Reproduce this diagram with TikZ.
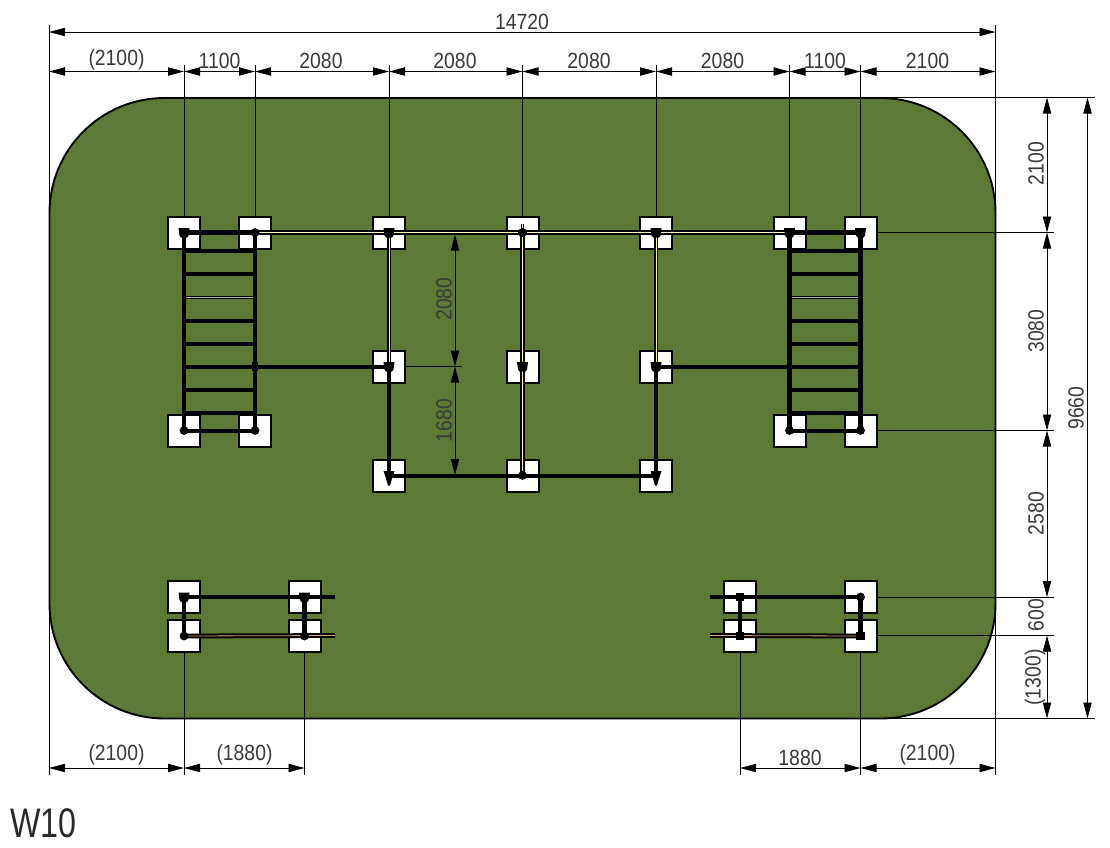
\documentclass[tikz,border=0pt]{standalone}
\usepackage{fontspec}
\setmainfont{Liberation Sans}
\newfontfamily\dimfont[FakeStretch=0.88]{Liberation Sans}
\newfontfamily\titlefont[FakeStretch=0.78]{Liberation Sans}
\usetikzlibrary{arrows.meta}
\definecolor{turf}{HTML}{5E7836}
\definecolor{ink}{HTML}{3A3A3A}
\tikzset{
  x=0.75pt,y=-0.75pt,
  footing/.style={draw=black,fill=white,line width=1.5pt,minimum size=24pt,inner sep=0pt,outer sep=0pt},
  rail/.style={line width=3.5pt,black,line cap=butt},
  rung/.style={line width=2.9pt,black},
  hollow/.style={line width=1.5pt,black,double=#1,double distance=0.6pt},
  hollow/.default={white!75!yellow},
  ext/.style={line width=0.72pt,black},
  dim/.style={line width=0.72pt,black,{Triangle[length=12pt,width=6.2pt]}-{Triangle[length=12pt,width=6.2pt]}},
  dimtext/.style={font=\dimfont\fontsize{16.5pt}{18pt}\selectfont,text=ink,inner sep=0pt},
  dimtextv/.style={dimtext,rotate=90},
  joint/.style={circle,fill=black,inner sep=0pt,minimum size=6.6pt},
  jointsq/.style={rectangle,fill=black,inner sep=0pt,minimum size=6.4pt}
}
\newcommand{\capjoint}[1]{\fill ([shift={(-5.5,-4.5)}]#1.center) -- ([shift={(5.5,-4.5)}]#1.center) -- ([shift={(4.5,3)}]#1.center) -- ([shift={(3,5)}]#1.center) -- ([shift={(-3,5)}]#1.center) -- ([shift={(-4.5,3)}]#1.center) -- cycle;}
\newcommand{\tipjoint}[1]{\fill ([shift={(-5.5,-4.5)}]#1.center) -- ([shift={(5.5,-4.5)}]#1.center) -- ([shift={(3,3)}]#1.center) -- ([shift={(1,10)}]#1.center) -- ([shift={(-1,10)}]#1.center) -- ([shift={(-3,3)}]#1.center) -- cycle;}
\begin{document}
\begin{tikzpicture}
\useasboundingbox (0,0) rectangle (1110,847);
% ground
\draw[fill=turf,line width=1.4pt,rounded corners=86.25pt] (49.5,98) rectangle (995.5,718.5);
% footings
\foreach \n/\px/\py in {
  a1/184/232.5,a2/255/232.5,a3/389/232.5,a4/522.5/232.5,a5/656/232.5,a6/789.5/232.5,a7/860.5/232.5,
  b3/389/366.5,b4/522.5/366.5,b5/656/366.5,
  c1/184/430.5,c2/255/430.5,c6/789.5/430.5,c7/860.5/430.5,
  d3/389/475.5,d4/522.5/475.5,d5/656/475.5,
  e1/184/597,e2/304.5/597,e3/740/597,e4/860.5/597,
  f1/184/636,f2/304.5/636,f3/740/636,f4/860.5/636}
  {\node[footing] (\n) at (\px,\py) {};}
% free ends of rails and joints on the ladder rails
\coordinate (b2) at (255,366.5);
\coordinate (b6) at (789.5,366.5);
\coordinate (e2r) at (335,597);
\coordinate (f2r) at (335,635.5);
\coordinate (e3l) at (710,597);
\coordinate (f3l) at (710,635.5);
\coordinate (a4n) at (522.5,224);
% ladder rungs
\foreach \ry in {250.7,274,321,344,367,390,413}{
  \draw[rung] (184,\ry) -- (255,\ry);
  \draw[rung] (789.5,\ry) -- (860.5,\ry);
}
\draw[hollow=turf!50!white,line width=0.95pt,double distance=0.4pt] (184,297.5) -- (255,297.5);
\draw[hollow=turf!50!white,line width=0.95pt,double distance=0.4pt] (789.5,297.5) -- (860.5,297.5);
% rails
\draw[rail] (a1.center) -- (c1.center);
\draw[rail] (a2.center) -- (c2.center);
\draw[rail] (a6.center) -- (c6.center);
\draw[rail] (a7.center) -- (c7.center);
\draw[rail,line width=3pt] (c1.center) -- (c2.center);
\draw[rail,line width=3pt] (c6.center) -- (c7.center);
\draw[rail] (a1.center) -- (a2.center);
\draw[rail] (a6.center) -- (a7.center);
\draw[rail,line width=3pt] (b2) -- (b3.center);
\draw[rail,line width=3pt] (b5.center) -- (b6);
\draw[rail] (b3.center) -- (d3.center);
\draw[rail] (b5.center) -- (d5.center);
\draw[rail,line width=3pt] (d3.center) -- (d4.center) -- (d5.center);
\draw[hollow] (a2.center) -- (a6.center);
\draw[hollow=yellow!45!white] (a3.center) -- (b3.center);
\draw[hollow=yellow!45!white] (a4.center) -- (d4.center);
\draw[hollow=yellow!45!white] (a5.center) -- (b5.center);
\draw[line width=1pt,black,double=white,double distance=0.6pt] (a4n) -- (a4.center);
% lower rail pairs
\draw[rail] (e1.center) -- (f1.center);
\draw[rail] (e2.center) -- (f2.center);
\draw[rail] (e3.center) -- (f3.center);
\draw[rail] (e4.center) -- (f4.center);
\draw[rail] (e1.center) -- (e2r);
\draw[rail] (e3l) -- (e4.center);
\draw[hollow={brown!70!white}] (f1.center) -- (f2r);
\draw[hollow={brown!70!white}] (f3l) -- (f4.center);
% joints
\capjoint{a1}\capjoint{a3}\capjoint{a5}\capjoint{a6}\capjoint{a7}\capjoint{b3}\capjoint{b4}\capjoint{b5}\capjoint{e1}\capjoint{e2}
\tipjoint{d3}\tipjoint{d5}
\foreach \n in {a2,a4,c1,c2,c6,c7,d4,e4,f1,f2}{\node[joint] at (\n.center) {};}
\foreach \n in {e3,f3,f4}{\node[jointsq] at (\n.center) {};}
\node[jointsq,minimum width=4pt,minimum height=6.4pt] at (b2) {};
\node[jointsq,minimum width=4pt,minimum height=6.4pt] at (b6) {};
% extension lines
\coordinate (L0) at (49,25);  \coordinate (L1) at (49,775);
\coordinate (R0) at (995.5,25); \coordinate (R1) at (995.5,775);
\draw[ext] (L0) -- (L1);
\draw[ext] (R0) -- (R1);
\foreach \n/\px in {a1/184,a2/255,a3/389,a4/522.5,a5/656,a6/789.5,a7/860.5}{
  \coordinate (t\n) at (\px,65);
  \draw[ext] (t\n) -- (\n.north);
}
\foreach \n/\px in {f1/184,f2/304.5,f3/740,f4/860.5}{
  \coordinate (u\n) at (\px,775);
  \draw[ext] (\n.south) -- (u\n);
}
\coordinate (xt) at (1095,97.5);
\coordinate (xt0) at (860,97.5);
\coordinate (xb) at (1095,718.5);
\coordinate (xb0) at (860,718.5);
\draw[ext] (xt0) -- (xt);
\draw[ext] (xb0) -- (xb);
\foreach \n/\nm/\py in {a7/ya/232.5,c7/yc/430.5,e4/ye/597,f4/yf/635.5}{
  \coordinate (\nm) at (1054,\py);
  \draw[ext] (\n.east |- \nm) -- (\nm);
}
\coordinate (ym) at (462,366.5);
\draw[ext] (b3.east) -- (ym);
% top dimensions
\coordinate (d0) at (49,32); \coordinate (d1) at (995.5,32);
\draw[dim] (d0) -- (d1);
\node[dimtext] (l14720) at (522,21.5) {14720};
\foreach \nm/\xa/\xb in {p1/49/184,p2/184/255,p3/255/389,p4/389/522.5,p5/522.5/656,p6/656/789.5,p7/789.5/860.5,p8/860.5/995.5}{
  \coordinate (\nm a) at (\xa,71.5);
  \coordinate (\nm b) at (\xb,71.5);
  \draw[dim] (\nm a) -- (\nm b);
}
\node[dimtext] (lp1) at (116.5,60) {(2100)};
\node[dimtext] (lp2) at (219.5,61) {1100};
\node[dimtext] (lp3) at (321,61) {2080};
\node[dimtext] (lp4) at (455,61) {2080};
\node[dimtext] (lp5) at (589,61) {2080};
\node[dimtext] (lp6) at (722.5,61) {2080};
\node[dimtext] (lp7) at (825,61) {1100};
\node[dimtext] (lp8) at (927.5,61) {2100};
% right dimensions
\foreach \nm/\ya/\yb in {q1/97.5/232.5,q2/232.5/430.5,q3/430.5/597,q4/635.5/718.5}{
  \coordinate (\nm a) at (1047,\ya);
  \coordinate (\nm b) at (1047,\yb);
  \draw[dim] (\nm a) -- (\nm b);
}
\coordinate (ra) at (1087.5,97.5); \coordinate (rb) at (1087.5,718.5);
\draw[dim] (ra) -- (rb);
\node[dimtextv] (lq1) at (1036,163.5) {2100};
\node[dimtextv] (lq2) at (1036,331) {3080};
\node[dimtextv] (lq3) at (1036,513.5) {2580};
\node[dimtextv] (lq4) at (1036,615) {600};
\node[dimtextv] (lq5) at (1035,677.5) {(1300)};
\node[dimtextv] (lr) at (1076,408) {9660};
% inner dimensions
\coordinate (m0) at (455,234.5); \coordinate (m1) at (455,366.5); \coordinate (m2) at (455,475);
\draw[dim] (m0) -- (m1);
\draw[dim] (m1) -- (m2);
\node[dimtextv] (lm1) at (444,299) {2080};
\node[dimtextv] (lm2) at (444,420.5) {1680};
% bottom dimensions
\foreach \nm/\xa/\xb in {s1/49/184,s2/184/304.5,s3/740/860.5,s4/860.5/995.5}{
  \coordinate (\nm a) at (\xa,768);
  \coordinate (\nm b) at (\xb,768);
  \draw[dim] (\nm a) -- (\nm b);
}
\node[dimtext] (ls1) at (116.5,755) {(2100)};
\node[dimtext] (ls2) at (244.5,755) {(1880)};
\node[dimtext] (ls3) at (800,758) {1880};
\node[dimtext] (ls4) at (927.5,755) {(2100)};
% title
\node[font=\titlefont\fontsize{31pt}{34pt}\selectfont,text=ink!70!black,inner sep=0pt,anchor=west] (title) at (10,823) {W10};
\end{tikzpicture}
\end{document}
